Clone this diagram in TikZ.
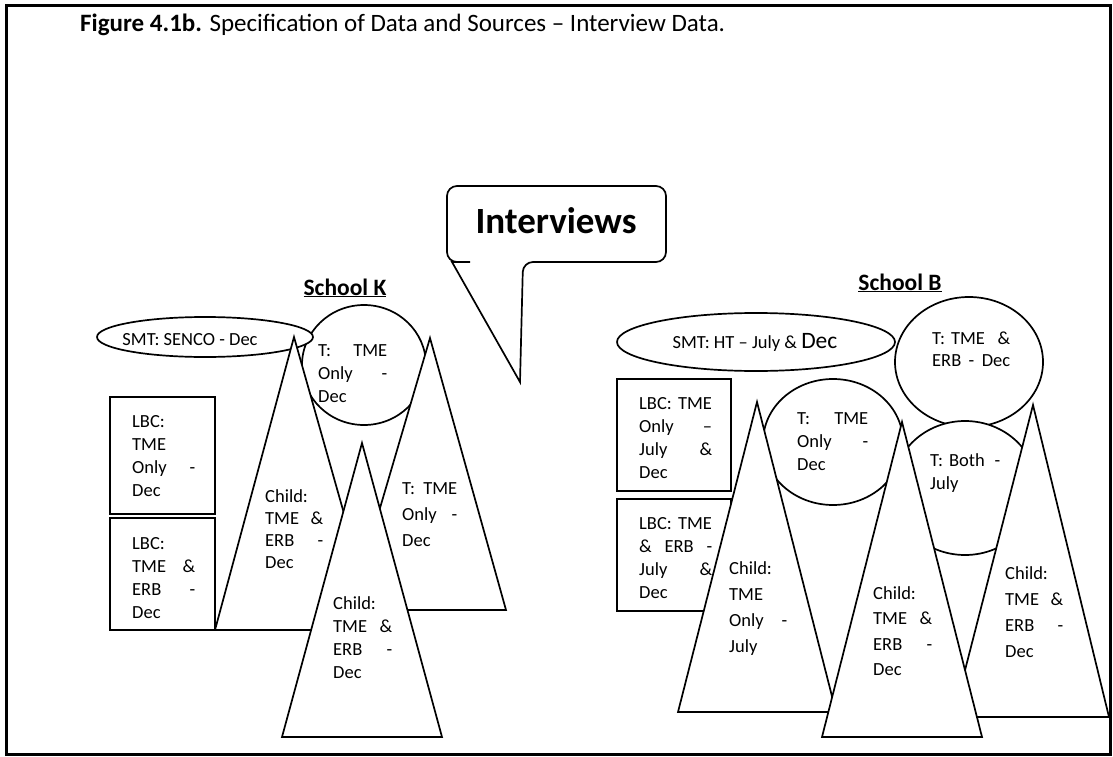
\documentclass[tikz,border=0pt]{standalone}
\usepackage{fontspec}
\setmainfont{Carlito}
\begin{document}
\begin{tikzpicture}[x=1pt,y=-1pt,
	outline/.style={draw, fill=white, line width=1.7pt},
	txt/.style={inner sep=0pt, anchor=north west, align=left, font=\fontsize{18.5}{23}\selectfont},
	txtwide/.style={txt, font=\fontsize{18.5}{26}\selectfont},
	school/.style={inner sep=0pt, anchor=base, font=\fontsize{23.5}{28}\selectfont\bfseries}]
	\useasboundingbox (0,0) rectangle (1113,757);
	\draw[line width=3pt] (6,6) rectangle (1110,754);
	\node[inner sep=0pt, anchor=base west, font=\fontsize{25}{30}\selectfont](title) at (80,32)
		{\textbf{Figure 4.1b.} Specification of Data and Sources – Interview Data.};

	% callout
	\draw[outline] (470,262) [rounded corners=10pt] -- (447,262) -- (447,186) -- (666,186) -- (666,262) -- (523,262) [sharp corners] -- (520,382) -- (452,262) -- cycle;
	\node[inner sep=0pt, anchor=base, font=\fontsize{37}{40}\selectfont\bfseries](interviews) at (556,233) {Interviews};

	% School K
	\node[school](schoolK) at (345,295) {\underline{School K}};
	\draw[outline] (364,365) ellipse [x radius=62, y radius=60];
	\node[txt, text width=69pt](tK) at (318,340) {\strut T:\hfill TME\\Only\hfill -\\Dec};
	\draw[outline] (205,337) ellipse [x radius=108, y radius=20];
	\node[inner sep=0pt, font=\fontsize{18.5}{23}\selectfont](smtK) at (190,340) {SMT: SENCO - Dec};
	\draw[outline] (294,337) -- (215,630) -- (377,630) -- cycle;
	\node[txt, font=\fontsize{18.5}{22}\selectfont, text width=58pt](childK1) at (265,487) {\strut Child:\\TME\hfill\&\\ERB\hfill -\\Dec};
	\draw[outline] (430,338) -- (350,610) -- (506,610) -- cycle;
	\node[txtwide, text width=55pt](tK2) at (402,476) {\strut T:\hfill TME\\Only\hfill -\\Dec};
	\draw[outline] (362,443) -- (282,737) -- (442,737) -- cycle;
	\node[txt, text width=59pt](childK2) at (333,593) {\strut Child:\\TME\hfill\&\\ERB\hfill -\\Dec};
	\draw[outline] (110,397) rectangle (215,514);
	\node[txt, text width=63pt](lbcK1) at (132,411) {\strut LBC:\\TME\\Only\hfill -\\Dec};
	\draw[outline] (110,518) rectangle (215,630);
	\node[txt, text width=63pt](lbcK2) at (132,533) {\strut LBC:\\TME\hfill\&\\ERB\hfill -\\Dec};

	% School B
	\node[school](schoolB) at (900,290) {\underline{School B}};
	\draw[outline] (756,342) ellipse [x radius=139, y radius=29];
	\node[inner sep=0pt, font=\fontsize{18.5}{23}\selectfont](smtB) at (755,342) {SMT: HT – July \& {\fontsize{23.5}{23}\selectfont Dec}};
	\draw[outline] (969,362) ellipse [x radius=74, y radius=65];
	\node[txt, font=\fontsize{18.5}{22}\selectfont, text width=78pt](tB1) at (932,329) {\strut T: TME\hfill\&\\ERB\hfill-\hfill Dec};
	\draw[outline] (833,442) ellipse [x radius=70, y radius=63];
	\node[txt, text width=71pt](tB2) at (797,408) {\strut T:\hfill TME\\Only\hfill -\\Dec};
	\draw[outline] (965,488) ellipse [x radius=72, y radius=67];
	\node[txt, text width=70pt](tB3) at (930,450) {\strut T:\ Both\hfill -\\July};
	\draw[outline] (617,379) rectangle (731,491);
	\node[txt, text width=73pt](lbcB1) at (639,393) {\strut LBC: TME\\Only\hfill –\\July\hfill\&\\Dec};
	\draw[outline] (617,499) rectangle (731,611);
	\node[txt, text width=73pt](lbcB2) at (639,513) {\strut LBC: TME\\\&\hfill ERB\hfill -\\July\hfill\&\\Dec};
	\draw[outline] (757,402) -- (678,712) -- (836,712) -- cycle;
	\node[txtwide, text width=58pt](childB1) at (729,556) {\strut Child:\\TME\\Only\hfill -\\July};
	\draw[outline] (1033,405) -- (953,717) -- (1109,717) -- cycle;
	\node[txtwide, text width=58pt](childB3) at (1005,561) {\strut Child:\\TME\hfill\&\\ERB\hfill -\\Dec};
	\draw[outline] (902,422) -- (822,737) -- (982,737) -- cycle;
	\node[txt, font=\fontsize{18.5}{25.5}\selectfont, text width=59pt](childB2) at (873,581) {\strut Child:\\TME\hfill\&\\ERB\hfill -\\Dec};
\end{tikzpicture}
\end{document}
